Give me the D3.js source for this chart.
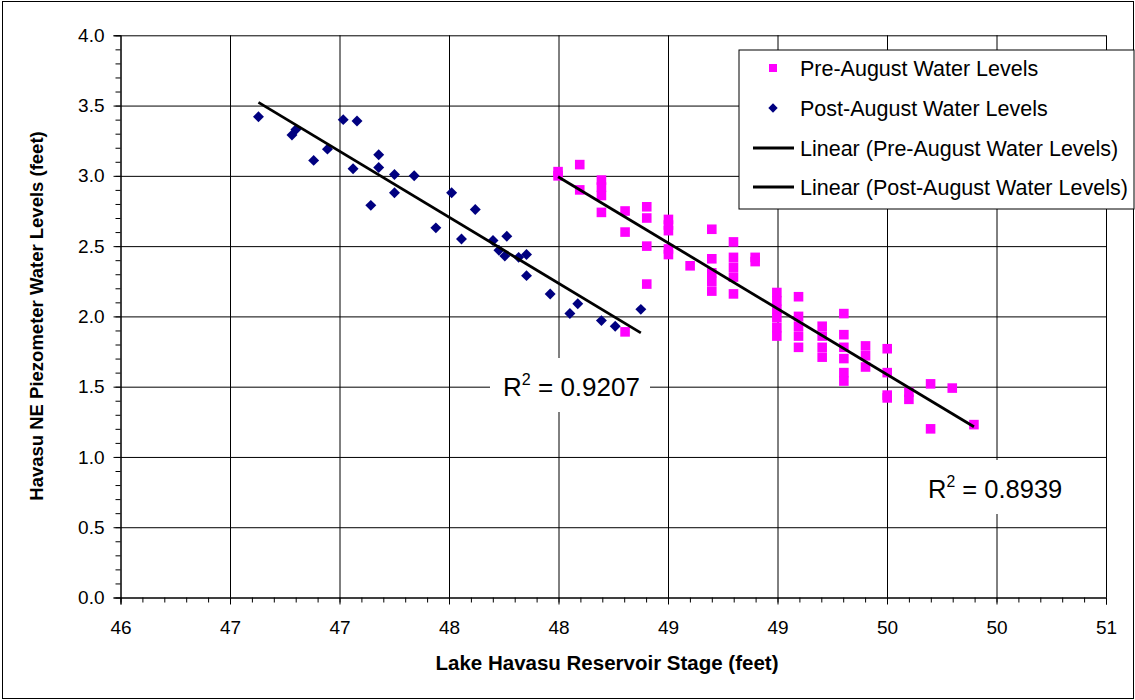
<!DOCTYPE html>
<html lang="en">
<head>
<meta charset="UTF-8">
<title>Havasu NE Piezometer</title>
<style>
  body { margin: 0; background: #fff; }
  svg text { font-family: "Liberation Sans", Arial, sans-serif; fill: #000; }
</style>
</head>
<body>
<script src="https://d3js.org/d3.v7.min.js"></script>
<script>
// reservoir stage (ft) vs piezometer level (ft)
let preStage = [
  48.22, 48.22,
  48.33, 48.33,
  48.44, 48.44, 48.44, 48.44,
  48.56, 48.56, 48.56,
  48.67, 48.67, 48.67, 48.67,
  48.78, 48.78, 48.78, 48.78, 48.78,
  48.89,
  49.00, 49.00, 49.00, 49.00, 49.00,
  49.11, 49.11, 49.11, 49.11, 49.11,
  49.22, 49.22,
  49.33, 49.33, 49.33, 49.33, 49.33, 49.33,
  49.44, 49.44, 49.44, 49.44, 49.44,
  49.56, 49.56, 49.56, 49.56,
  49.67, 49.67, 49.67, 49.67, 49.67, 49.67,
  49.78, 49.78, 49.78,
  49.89, 49.89, 49.89, 49.89,
  50.00, 50.00,
  50.11, 50.11,
  50.22,
  50.33
];
let preLevel = [
  3.03, 3.00,
  3.08, 2.90,
  2.97, 2.92, 2.86, 2.74,
  2.75, 2.60, 1.89,
  2.78, 2.70, 2.50, 2.23,
  2.69, 2.65, 2.61, 2.48, 2.44,
  2.36,
  2.62, 2.41, 2.31, 2.25, 2.18,
  2.53, 2.42, 2.35, 2.28, 2.16,
  2.42, 2.39,
  2.17, 2.11, 2.05, 1.99, 1.92, 1.86,
  2.14, 2.00, 1.93, 1.86, 1.78,
  1.93, 1.86, 1.78, 1.71,
  2.02, 1.87, 1.78, 1.70, 1.60, 1.54,
  1.79, 1.72, 1.64,
  1.77, 1.60, 1.44, 1.42,
  1.46, 1.41,
  1.52, 1.20,
  1.49,
  1.23
];
let postStage = [46.70, 46.87, 46.89, 46.98, 47.05, 47.13, 47.20, 47.18, 47.31, 47.31,
  47.27, 47.39, 47.39, 47.49, 47.60, 47.68, 47.73, 47.80, 47.89, 47.92,
  47.95, 47.96, 48.02, 48.06, 48.06, 48.18, 48.28, 48.32, 48.44, 48.51, 48.64];
let postLevel = [3.42, 3.29, 3.33, 3.11, 3.19, 3.40, 3.39, 3.05, 3.15, 3.06,
  2.79, 3.01, 2.88, 3.00, 2.63, 2.88, 2.55, 2.76, 2.54, 2.47,
  2.43, 2.57, 2.42, 2.44, 2.29, 2.16, 2.02, 2.09, 1.97, 1.93, 2.05];

let xTicks = d3.range(10).map(i => 46 + i * 5 / 9);
let yTicks = d3.range(0, 4.01, 0.5);
let legendLabels = ["Pre-August Water Levels", "Post-August Water Levels",
  "Linear (Pre-August Water Levels)", "Linear (Post-August Water Levels)"];
let r2Labels = ["0.9207", "0.8939"];

let W = 1135, H = 700;
let margin = {top: 35.3, right: 29, bottom: 102.5, left: 120.5};
let width = W - margin.left - margin.right,
    height = H - margin.top - margin.bottom;

let svg = d3.select("body").append("svg")
  .attr("width", W).attr("height", H);

svg.append("rect")
  .attr("x", 2.5).attr("y", 1.5).attr("width", W - 4).attr("height", H - 3)
  .attr("fill", "#fff").attr("stroke", "#000").attr("stroke-width", 1);

let g = svg.append("g").attr("transform", `translate(${margin.left},${margin.top})`);

let x = d3.scaleLinear().domain([46, 51]).range([0, width]);
let y = d3.scaleLinear().domain([0, 4]).range([height, 0]);

// gridlines
g.append("g").attr("class", "grid")
  .attr("transform", `translate(0,${height})`)
  .call(d3.axisBottom(x).tickValues(xTicks).tickSize(-height).tickFormat(""));
g.append("g").attr("class", "grid")
  .call(d3.axisLeft(y).tickValues(yTicks).tickSize(-width).tickFormat(""));
g.selectAll(".grid .domain").remove();
g.selectAll(".grid line").attr("stroke", "#000").attr("stroke-width", 1);

// minor ticks
let xMinor = d3.range(46, 51.001, 1 / 9);
let yMinor = d3.range(0, 4.001, 0.1);
g.append("g").attr("transform", `translate(0,${height})`)
  .call(d3.axisBottom(x).tickValues(xMinor).tickSize(5).tickFormat(""))
  .call(a => a.select(".domain").remove());
g.append("g")
  .call(d3.axisLeft(y).tickValues(yMinor).tickSize(5).tickFormat(""))
  .call(a => a.select(".domain").remove());

// main axes
let xAxis = g.append("g").attr("transform", `translate(0,${height})`)
  .call(d3.axisBottom(x).tickValues(xTicks).tickSize(7).tickPadding(16).tickFormat(d3.format(".0f")));
let yAxis = g.append("g")
  .call(d3.axisLeft(y).tickValues(yTicks).tickSize(7).tickPadding(9).tickFormat(d3.format(".1f")));
[xAxis, yAxis].forEach(a => {
  a.selectAll("path, line").attr("stroke", "#000");
  a.selectAll("text").attr("font-size", 19).attr("font-family", "Liberation Sans, Arial, sans-serif");
});

// trend lines (least squares)
function fit(xs, ys) {
  let mx = d3.mean(xs), my = d3.mean(ys);
  let sxy = d3.sum(xs, (v, i) => (v - mx) * (ys[i] - my));
  let sxx = d3.sum(xs, v => (v - mx) * (v - mx));
  let b = sxy / sxx;
  return {b: b, a: my - b * mx, x0: d3.min(xs), x1: d3.max(xs)};
}
let fits = [fit(preStage, preLevel), fit(postStage, postLevel)];

// points
let square = d3.symbol().type(d3.symbolSquare).size(92);
let diamond = d3.symbol().type(d3.symbolSquare).size(60);

g.append("g").selectAll("path")
  .data(d3.range(preStage.length))
  .join("path")
  .attr("d", square)
  .attr("transform", i => `translate(${x(preStage[i])},${y(preLevel[i])})`)
  .attr("fill", "#ff00ff");

g.append("g").selectAll("path")
  .data(d3.range(postStage.length))
  .join("path")
  .attr("d", diamond)
  .attr("transform", i => `translate(${x(postStage[i])},${y(postLevel[i])}) rotate(45)`)
  .attr("fill", "#000080");

g.append("g").selectAll("line")
  .data(fits)
  .join("line")
  .attr("x1", f => x(f.x0)).attr("y1", f => y(f.a + f.b * f.x0))
  .attr("x2", f => x(f.x1)).attr("y2", f => y(f.a + f.b * f.x1))
  .attr("stroke", "#000").attr("stroke-width", 2.8);

// R squared labels
let r2Pos = [{bx: 490, by: 358, bw: 160, bh: 54, fs: 26},
             {bx: 915, by: 460, bw: 162, bh: 54, fs: 25.5}];
r2Labels.forEach((lab, i) => {
  let p = r2Pos[i];
  svg.append("rect").attr("x", p.bx).attr("y", p.by).attr("width", p.bw).attr("height", p.bh)
    .attr("fill", "#fff");
  let t = svg.append("text")
    .attr("x", p.bx + 13).attr("y", p.by + 38)
    .attr("font-size", p.fs);
  t.append("tspan").text("R");
  t.append("tspan").attr("dy", -11).attr("font-size", p.fs * 0.62).text("2");
  t.append("tspan").attr("dy", 11).text(" = " + lab);
});

// legend
let lg = svg.append("g").attr("transform", "translate(739,50)");
lg.append("rect").attr("width", 395).attr("height", 159)
  .attr("fill", "#fff").attr("stroke", "#000").attr("stroke-width", 1);
let rows = [18, 58, 98, 137];
legendLabels.forEach((lab, i) => {
  let ry = rows[i];
  if (i === 0) {
    lg.append("path").attr("d", d3.symbol().type(d3.symbolSquare).size(64))
      .attr("transform", `translate(34,${ry})`).attr("fill", "#ff00ff");
  } else if (i === 1) {
    lg.append("path").attr("d", d3.symbol().type(d3.symbolSquare).size(44))
      .attr("transform", `translate(34,${ry}) rotate(45)`).attr("fill", "#000080");
  } else {
    lg.append("line").attr("x1", 14).attr("x2", 55).attr("y1", ry).attr("y2", ry)
      .attr("stroke", "#000").attr("stroke-width", 2.8);
  }
  lg.append("text").attr("x", 61).attr("y", ry).attr("dy", "0.35em")
    .attr("font-size", 21.5).text(lab);
});

// axis titles
svg.append("text")
  .attr("x", 607).attr("y", 670)
  .attr("text-anchor", "middle").attr("font-size", 20.5).attr("font-weight", "bold")
  .text("Lake Havasu Reservoir Stage (feet)");
svg.append("text")
  .attr("transform", "translate(43,316) rotate(-90)")
  .attr("text-anchor", "middle").attr("font-size", 18.5).attr("font-weight", "bold")
  .text("Havasu NE Piezometer Water Levels (feet)");
</script>
</body>
</html>
